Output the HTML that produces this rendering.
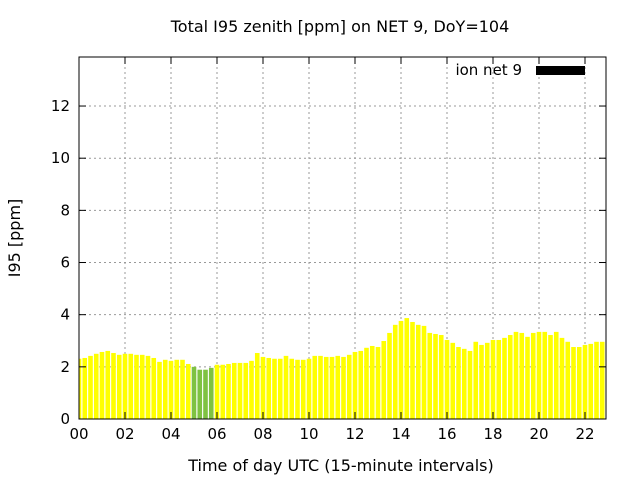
<!DOCTYPE html>
<html><head><meta charset="utf-8"><style>
body{margin:0;background:#fff}
svg{display:block;font-family:"DejaVu Sans","Liberation Sans",sans-serif}
</style></head><body>
<svg id="c" width="640" height="480">
<text x="340" y="32" text-anchor="middle" font-size="16">Total I95 zenith [ppm] on NET 9, DoY=104</text>
<text x="341" y="471" text-anchor="middle" font-size="16">Time of day UTC (15-minute intervals)</text>
<text transform="translate(20,238) rotate(-90)" text-anchor="middle" font-size="16">I95 [ppm]</text>
<g id="grid"></g><g id="bars"></g><g id="ticks"></g>
<rect x="79" y="57" width="527" height="362" fill="none" stroke="#000" stroke-width="1"/>
<text x="522" y="75" text-anchor="end" font-size="15">ion net 9</text>
<rect x="536" y="66" width="49" height="9" fill="#000"/>
</svg>
<script>
const values=[2.31,2.34,2.42,2.50,2.57,2.61,2.53,2.46,2.50,2.50,2.46,2.46,2.42,2.34,2.19,2.27,2.23,2.27,2.27,2.11,2.0,1.89,1.89,1.96,2.08,2.08,2.11,2.15,2.15,2.15,2.23,2.53,2.38,2.34,2.31,2.31,2.42,2.31,2.27,2.27,2.31,2.42,2.42,2.38,2.38,2.42,2.38,2.46,2.57,2.61,2.73,2.80,2.76,2.99,3.30,3.61,3.76,3.87,3.72,3.61,3.57,3.30,3.26,3.22,3.03,2.92,2.76,2.69,2.61,2.96,2.84,2.92,3.03,3.03,3.11,3.22,3.34,3.30,3.15,3.30,3.34,3.34,3.22,3.34,3.11,2.96,2.76,2.76,2.84,2.88,2.96,2.96];
const greenIdx=[20,21,22,23];
const xTicks=["00","02","04","06","08","10","12","14","16","18","20","22"];
const yTicks=[0,2,4,6,8,10,12];
const L=79,R=606,T=57,B=419,XMAX=22.913,YMAX=13.88;
const xs=h=>L+h/XMAX*(R-L), ys=v=>B-v/YMAX*(B-T);
const NS="http://www.w3.org/2000/svg";
function mk(t,a,p){const e=document.createElementNS(NS,t);for(const k in a)e.setAttribute(k,a[k]);p.appendChild(e);return e;}
const g=document.getElementById('grid'),b=document.getElementById('bars'),tk=document.getElementById('ticks');
yTicks.forEach(v=>{const y=ys(v);
 if(v>0){const l=mk('line',{x1:L,x2:R,y1:y,y2:y,stroke:'#999','stroke-dasharray':'2,3'},g);
 
 }
 mk('line',{x1:L,x2:L+7,y1:y,y2:y,stroke:'#000'},tk);mk('line',{x1:R-7,x2:R,y1:y,y2:y,stroke:'#000'},tk);
 const t=mk('text',{x:L-9,y:y+5,'text-anchor':'end','font-size':15},tk);t.textContent=v;
 
 });
xTicks.forEach((s,i)=>{const x=xs(i*2);
 if(i>0){const l=mk('line',{x1:x,x2:x,y1:T,y2:B,stroke:'#999','stroke-dasharray':'2,3'},g);
 
 }
 mk('line',{x1:x,x2:x,y1:B-7,y2:B,stroke:'#000'},tk);mk('line',{x1:x,x2:x,y1:T,y2:T+7,stroke:'#000'},tk);
 const t=mk('text',{x:x,y:B+20,'text-anchor':'middle','font-size':15},tk);t.textContent=s;
 
 });
const w=0.2*(xs(1)-xs(0));
values.forEach((v,i)=>{const c=xs(i*0.25);let x0=Math.max(L,c-w/2),x1=c+w/2;
 const r=mk('rect',{x:x0,y:ys(v),width:x1-x0,height:B-ys(v),fill:greenIdx.includes(i)?'#7fc241':'#ffff00'},b);
 
 });
</script>
</body></html>
